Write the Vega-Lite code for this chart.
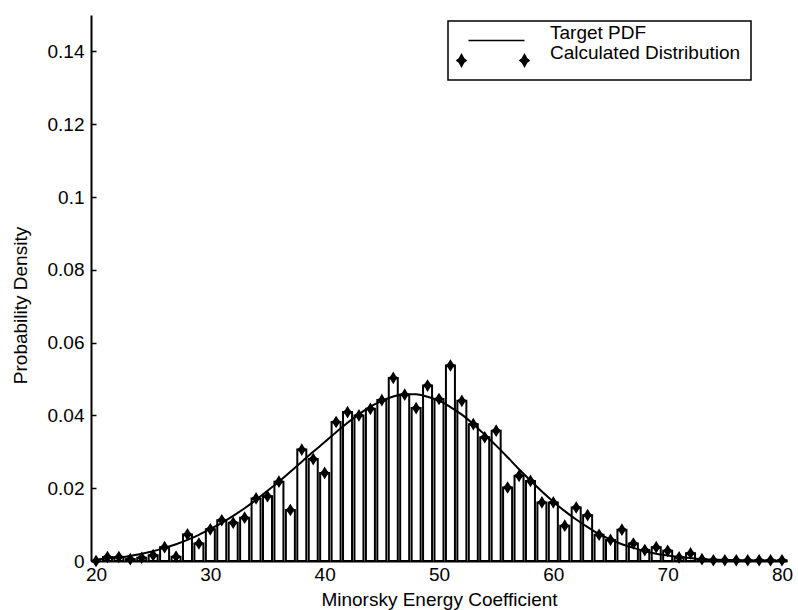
{
  "$schema": "https://vega.github.io/schema/vega-lite/v6.json",
  "width": 696,
  "height": 546,
  "autosize": "none",
  "padding": {"left": 91, "top": 15, "right": 11, "bottom": 49},
  "background": "white",
  "config": {
    "view": {"stroke": null},
    "font": "Liberation Sans",
    "axis": {
      "grid": false,
      "domainColor": "black",
      "domainWidth": 2,
      "tickColor": "black",
      "tickWidth": 1.5,
      "tickSize": -5,
      "labelColor": "black",
      "labelFont": "Liberation Sans",
      "labelFontSize": 19,
      "titleFont": "Liberation Sans",
      "titleFontSize": 19,
      "titleFontWeight": "normal",
      "titleColor": "black"
    }
  },
  "datasets": {
    "dist": [
      {"x": 20, "p": 0.0}, {"x": 21, "p": 0.0011}, {"x": 22, "p": 0.0011}, {"x": 23, "p": 0.0005},
      {"x": 24, "p": 0.0009}, {"x": 25, "p": 0.0016}, {"x": 26, "p": 0.0038}, {"x": 27, "p": 0.0012},
      {"x": 28, "p": 0.0073}, {"x": 29, "p": 0.0048}, {"x": 30, "p": 0.0087}, {"x": 31, "p": 0.0112},
      {"x": 32, "p": 0.0105}, {"x": 33, "p": 0.0119}, {"x": 34, "p": 0.0172}, {"x": 35, "p": 0.0178},
      {"x": 36, "p": 0.0218}, {"x": 37, "p": 0.0140}, {"x": 38, "p": 0.0306}, {"x": 39, "p": 0.0280},
      {"x": 40, "p": 0.0242}, {"x": 41, "p": 0.0382}, {"x": 42, "p": 0.0409}, {"x": 43, "p": 0.0400},
      {"x": 44, "p": 0.0418}, {"x": 45, "p": 0.0442}, {"x": 46, "p": 0.0503}, {"x": 47, "p": 0.0457},
      {"x": 48, "p": 0.0420}, {"x": 49, "p": 0.0482}, {"x": 50, "p": 0.0445}, {"x": 51, "p": 0.0537},
      {"x": 52, "p": 0.0440}, {"x": 53, "p": 0.0376}, {"x": 54, "p": 0.0340}, {"x": 55, "p": 0.0358},
      {"x": 56, "p": 0.0202}, {"x": 57, "p": 0.0234}, {"x": 58, "p": 0.0220}, {"x": 59, "p": 0.0161},
      {"x": 60, "p": 0.0161}, {"x": 61, "p": 0.0097}, {"x": 62, "p": 0.0147}, {"x": 63, "p": 0.0126},
      {"x": 64, "p": 0.0072}, {"x": 65, "p": 0.0058}, {"x": 66, "p": 0.0086}, {"x": 67, "p": 0.0048},
      {"x": 68, "p": 0.0030}, {"x": 69, "p": 0.0038}, {"x": 70, "p": 0.0028}, {"x": 71, "p": 0.0010},
      {"x": 72, "p": 0.0021}, {"x": 73, "p": 0.0005}, {"x": 74, "p": 0.0002}, {"x": 75, "p": 0.0002},
      {"x": 76, "p": 0.0002}, {"x": 77, "p": 0.0002}, {"x": 78, "p": 0.0002}, {"x": 79, "p": 0.0002},
      {"x": 80, "p": 0.0002}
    ],
    "pdf": [
      {"x": 20, "p": 0.0004}, {"x": 21, "p": 0.0007}, {"x": 22, "p": 0.0010}, {"x": 23, "p": 0.0014},
      {"x": 24, "p": 0.0020}, {"x": 25, "p": 0.0027}, {"x": 26, "p": 0.0036}, {"x": 27, "p": 0.0046},
      {"x": 28, "p": 0.0058}, {"x": 29, "p": 0.0072}, {"x": 30, "p": 0.0088}, {"x": 31, "p": 0.0105},
      {"x": 32, "p": 0.0124}, {"x": 33, "p": 0.0145}, {"x": 34, "p": 0.0168}, {"x": 35, "p": 0.0193},
      {"x": 36, "p": 0.0218}, {"x": 37, "p": 0.0245}, {"x": 38, "p": 0.0273}, {"x": 39, "p": 0.0300},
      {"x": 40, "p": 0.0327}, {"x": 41, "p": 0.0354}, {"x": 42, "p": 0.0380}, {"x": 43, "p": 0.0403},
      {"x": 44, "p": 0.0424}, {"x": 45, "p": 0.0440}, {"x": 46, "p": 0.0452}, {"x": 47, "p": 0.0458},
      {"x": 48, "p": 0.0458}, {"x": 49, "p": 0.0451}, {"x": 50, "p": 0.0441}, {"x": 51, "p": 0.0423},
      {"x": 52, "p": 0.0402}, {"x": 53, "p": 0.0376}, {"x": 54, "p": 0.0347}, {"x": 55, "p": 0.0317},
      {"x": 56, "p": 0.0285}, {"x": 57, "p": 0.0252}, {"x": 58, "p": 0.0221}, {"x": 59, "p": 0.0191},
      {"x": 60, "p": 0.0163}, {"x": 61, "p": 0.0137}, {"x": 62, "p": 0.0114}, {"x": 63, "p": 0.0093},
      {"x": 64, "p": 0.0074}, {"x": 65, "p": 0.0059}, {"x": 66, "p": 0.0046}, {"x": 67, "p": 0.0036},
      {"x": 68, "p": 0.0027}, {"x": 69, "p": 0.0020}, {"x": 70, "p": 0.0015}, {"x": 71, "p": 0.0011},
      {"x": 72, "p": 0.0008}, {"x": 73, "p": 0.0005}, {"x": 74, "p": 0.0004}, {"x": 75, "p": 0.0003},
      {"x": 76, "p": 0.0002}, {"x": 77, "p": 0.0001}, {"x": 78, "p": 0.0001}, {"x": 79, "p": 0.0},
      {"x": 80, "p": 0.0}
    ]
  },
  "layer": [
    {
      "data": {"name": "dist"},
      "mark": {"type": "bar", "width": 9, "fill": "white", "stroke": "black", "strokeWidth": 2},
      "encoding": {
        "x": {
          "field": "x", "type": "quantitative",
          "scale": {"domain": [20, 80], "nice": false},
          "axis": {
            "values": [20, 30, 40, 50, 60, 70, 80],
            "format": "d",
            "labelPadding": 9,
            "title": "Minorsky Energy Coefficient",
            "titleY": 44,
            "titleBaseline": "alphabetic"
          }
        },
        "y": {
          "field": "p", "type": "quantitative",
          "scale": {"domain": [0, 0.15], "nice": false},
          "axis": {
            "values": [0, 0.02, 0.04, 0.06, 0.08, 0.1, 0.12, 0.14],
            "format": "~g",
            "labelPadding": 12,
            "title": "Probability Density",
            "titleX": -71,
            "titleY": 290,
            "titleAngle": 270,
            "titleAlign": "center",
            "titleBaseline": "middle"
          }
        }
      }
    },
    {
      "data": {"name": "pdf"},
      "transform": [{"calculate": "'Target PDF'", "as": "series"}],
      "mark": {"type": "line", "stroke": "black", "strokeWidth": 2, "interpolate": "monotone"},
      "encoding": {
        "x": {"field": "x", "type": "quantitative"},
        "y": {"field": "p", "type": "quantitative"},
        "color": {
          "field": "series", "type": "nominal",
          "scale": {"domain": ["Target PDF", "Calculated Distribution"], "range": ["black", "black"]},
          "legend": {
            "orient": "none",
            "legendX": 357,
            "legendY": 6,
            "title": null,
            "padding": 10,
            "rowPadding": -1,
            "strokeColor": "black",
            "fillColor": "white",
            "symbolSize": 64,
            "symbolStrokeWidth": 1.5,
            "symbolOffset": 29,
            "labelOffset": 44,
            "labelFont": "Liberation Sans",
            "labelFontSize": 19,
            "labelColor": "black",
            "labelLimit": 400,
            "encode": {
              "symbols": {
                "update": {
                  "shape": {"signal": "datum.value === 'Target PDF' ? 'M-7,0L7,0' : 'M-8.75,-1.5L-8.2,-0.5L-7.6,0L-8.2,0.5L-8.75,1.5L-9.3,0.5L-9.9,0L-9.3,-0.5Z M7,-1.5L7.55,-0.5L8.15,0L7.55,0.5L7,1.5L6.45,0.5L5.85,0L6.45,-0.5Z'"},
                  "fill": {"signal": "datum.value === 'Target PDF' ? 'transparent' : 'black'"},
                  "stroke": {"value": "black"},
                  "strokeWidth": {"value": 1.5},
                  "opacity": {"value": 1}
                }
              },
              "labels": {"update": {"dy": {"value": -8}}},
              "legend": {"update": {"strokeWidth": {"value": 1.5}}}
            }
          }
        }
      }
    },
    {
      "data": {"name": "dist"},
      "transform": [{"calculate": "'Calculated Distribution'", "as": "series"}],
      "mark": {
        "type": "point",
        "filled": true,
        "opacity": 1,
        "size": 160,
        "shape": "M0,-1L0.4,-0.35L0.8,0L0.4,0.35L0,1L-0.4,0.35L-0.8,0L-0.4,-0.35Z"
      },
      "encoding": {
        "x": {"field": "x", "type": "quantitative"},
        "y": {"field": "p", "type": "quantitative"},
        "color": {"field": "series", "type": "nominal"}
      }
    }
  ]
}
